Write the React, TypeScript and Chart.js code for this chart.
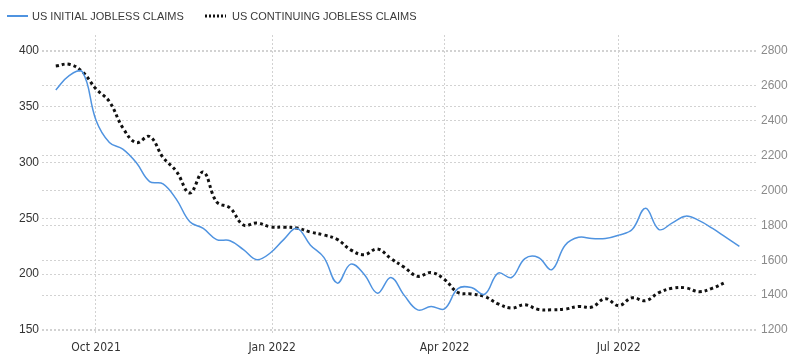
import React, { useEffect, useRef } from "react";
import { Chart, registerables } from "chart.js";

Chart.register(...registerables);

// ---- data ----
const weekDates = [
  "2021-09-10", "2021-09-17", "2021-09-24", "2021-10-01", "2021-10-08", "2021-10-15", "2021-10-22", "2021-10-29",
  "2021-11-05", "2021-11-12", "2021-11-19", "2021-11-26", "2021-12-03", "2021-12-10", "2021-12-17", "2021-12-24",
  "2021-12-31", "2022-01-07", "2022-01-14", "2022-01-21", "2022-01-28", "2022-02-04", "2022-02-11", "2022-02-18",
  "2022-02-25", "2022-03-04", "2022-03-11", "2022-03-18", "2022-03-25", "2022-04-01", "2022-04-08", "2022-04-15",
  "2022-04-22", "2022-04-29", "2022-05-06", "2022-05-13", "2022-05-20", "2022-05-27", "2022-06-03", "2022-06-10",
  "2022-06-17", "2022-06-24", "2022-07-01", "2022-07-08", "2022-07-15", "2022-07-22", "2022-07-29", "2022-08-05",
  "2022-08-12", "2022-08-19", "2022-08-26", "2022-09-02",
];

const initialClaims = [
  365, 378, 381, 338, 318, 312, 300, 283, 281, 267, 247, 241, 231, 230, 222, 213,
  219, 231, 241, 226, 215, 192, 209, 200, 183, 197, 181, 168, 171, 169, 187, 188,
  182, 201, 197, 214, 215, 204, 226, 233, 232, 232, 235, 240, 259, 240, 246, 252,
  248, 241, 233, 225,
];

const continuingClaims = [
  2714, 2724, 2680, 2583, 2510, 2360, 2275, 2310, 2190, 2110, 1986, 2106, 1935, 1900, 1802, 1814,
  1792, 1790, 1785, 1762, 1745, 1720, 1660, 1632, 1665, 1610, 1560, 1508, 1530, 1490, 1415, 1407,
  1392, 1350, 1326, 1345, 1318, 1316, 1320, 1335, 1332, 1380, 1340, 1385, 1368, 1415, 1440, 1442,
  1420, 1440, 1475,
];

const seriesNames = ["US INITIAL JOBLESS CLAIMS", "US CONTINUING JOBLESS CLAIMS"];
const xTickDates = ["2021-10-01", "2022-01-01", "2022-04-01", "2022-07-01"];
const xTickLabels = ["Oct 2021", "Jan 2022", "Apr 2022", "Jul 2022"];
const leftTicks = [150, 200, 250, 300, 350, 400];
const rightTicks = [1200, 1400, 1600, 1800, 2000, 2200, 2400, 2600, 2800];

// ---- helpers ----
const toDay = (s: string) =>
  Date.UTC(+s.slice(0, 4), +s.slice(5, 7) - 1, +s.slice(8, 10)) / 86400000;

const BLUE = "#4f93e0";
const GRID = "#d2d2d2";
const FONT = "'Liberation Sans', Arial, sans-serif";

export default function App() {
  const ref = useRef<HTMLCanvasElement | null>(null);

  useEffect(() => {
    if (!ref.current) return;
    const origin = toDay("2021-09-01");
    const chart = new Chart(ref.current, {
      type: "line",
      data: {
        datasets: [
          {
            label: seriesNames[0],
            data: initialClaims.map((v, i) => ({ x: toDay(weekDates[i]), y: v })),
            borderColor: BLUE,
            borderWidth: 1.5,
            pointRadius: 0,
            tension: 0.4,
            yAxisID: "yLeft",
          },
          {
            label: seriesNames[1],
            data: continuingClaims.map((v, i) => ({ x: toDay(weekDates[i]), y: v })),
            borderColor: "#111111",
            borderWidth: 3,
            borderDash: [3, 3],
            borderCapStyle: "butt",
            pointRadius: 0,
            tension: 0.4,
            yAxisID: "yRight",
          },
        ],
      },
      options: {
        animation: false,
        responsive: false,
        maintainAspectRatio: false,
        layout: { padding: { top: 35, left: 0, right: 0, bottom: 0 } },
        plugins: { legend: { display: false }, tooltip: { enabled: false } },
        scales: {
          x: {
            type: "linear",
            min: origin + 1.8,
            max: origin + 375.2,
            afterBuildTicks: (axis: any) => {
              axis.ticks = xTickDates.map((d) => ({ value: toDay(d) }));
            },
            afterFit: (axis: any) => {
              axis.height = 27;
            },
            grid: { color: GRID, drawTicks: false },
            border: { display: false, dash: [2, 2] },
            ticks: {
              padding: 8,
              color: "#333",
              font: { family: "'DejaVu Sans Condensed', 'DejaVu Sans', sans-serif", size: 12 },
              maxRotation: 0,
              autoSkip: false,
              callback: (value: any) => {
                const idx = xTickDates.findIndex((d) => toDay(d) === value);
                return idx >= 0 ? xTickLabels[idx] : "";
              },
            },
          },
          yLeft: {
            type: "linear",
            position: "left",
            min: 147.3,
            max: 414.3,
            afterBuildTicks: (axis: any) => {
              axis.ticks = leftTicks.map((v) => ({ value: v }));
            },
            afterFit: (axis: any) => {
              axis.width = 42;
            },
            grid: { color: GRID, drawTicks: false },
            border: { display: false, dash: [2, 2] },
            ticks: {
              padding: 3,
              color: "#333",
              font: { family: FONT, size: 12 },
              callback: (value: any) => String(value),
            },
          },
          yRight: {
            type: "linear",
            position: "right",
            min: 1183,
            max: 2892,
            afterBuildTicks: (axis: any) => {
              axis.ticks = rightTicks.map((v) => ({ value: v }));
            },
            afterFit: (axis: any) => {
              axis.width = 43;
            },
            grid: { color: GRID, drawTicks: false },
            border: { display: false, dash: [2, 2] },
            ticks: {
              padding: 4,
              color: "#8a8a8a",
              font: { family: FONT, size: 12 },
              callback: (value: any) => String(value),
            },
          },
        },
      },
    });
    return () => chart.destroy();
  }, []);

  const legendText: React.CSSProperties = {
    fontFamily: FONT,
    fontSize: "11px",
    color: "#3a3a3a",
    lineHeight: "12px",
    whiteSpace: "nowrap",
  };

  return (
    <div style={{ position: "fixed", left: 0, top: 0, width: 800, height: 360, background: "#fff" }}>
      <canvas ref={ref} width={800} height={360} style={{ position: "absolute", left: 0, top: 0 }} />
      <div style={{ position: "absolute", left: 7, top: 10, display: "flex", alignItems: "center" }}>
        <svg width={21} height={4} style={{ marginRight: 4 }}>
          <line x1={0} y1={2} x2={21} y2={2} stroke={BLUE} strokeWidth={2} />
        </svg>
        <span style={legendText}>{seriesNames[0]}</span>
      </div>
      <div style={{ position: "absolute", left: 205, top: 10, display: "flex", alignItems: "center" }}>
        <svg width={21} height={4} style={{ marginRight: 6 }}>
          <line x1={0} y1={2} x2={21} y2={2} stroke="#111" strokeWidth={3} strokeDasharray="2 2" />
        </svg>
        <span style={legendText}>{seriesNames[1]}</span>
      </div>
    </div>
  );
}
